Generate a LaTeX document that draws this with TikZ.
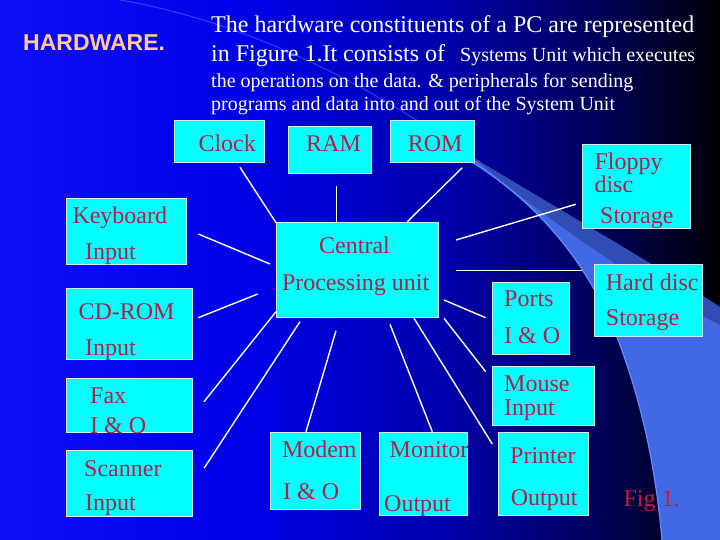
\documentclass[tikz,border=0pt]{standalone}
\usepackage{fontspec}
\setmainfont{Liberation Serif}
\newfontfamily\hwsans{Liberation Sans}
\definecolor{hwcyan}{RGB}{0,255,255}
\definecolor{hwred}{RGB}{176,32,72}
\definecolor{figred}{RGB}{204,24,64}
\definecolor{peach}{RGB}{255,204,153}
\definecolor{swoosh}{RGB}{65,105,228}
\definecolor{swooshdark}{RGB}{50,76,182}
\definecolor{swooshedge}{RGB}{100,140,255}
\definecolor{bgA}{RGB}{14,14,250}
\definecolor{bgB}{RGB}{0,0,232}
\definecolor{bgC}{RGB}{0,0,170}
\definecolor{bgD}{RGB}{0,0,88}
\definecolor{bgE}{RGB}{0,0,8}

\begin{document}
\begin{tikzpicture}[x=1pt,y=-1pt,
  hwbox/.style={draw=white!80!cyan,line width=0.9pt,fill=hwcyan,inner sep=0pt},
  hwtext/.style={text=hwred,font=\fontsize{24}{28}\selectfont,inner sep=0pt,anchor=base west},
  blurb/.style={text=white,inner sep=0pt,anchor=base west},
  link/.style={draw=white,line width=1.4pt}]
\useasboundingbox (0,0) rectangle (720,540);

% background
\shade[left color=bgA,right color=bgB] (0,0) rectangle (251,540);
\shade[left color=bgB,right color=bgC] (250,0) rectangle (451,540);
\shade[left color=bgC,right color=bgD] (450,0) rectangle (601,540);
\shade[left color=bgD,right color=bgE] (600,0) rectangle (720,540);

% swoosh
\draw[swooshedge,line width=1pt,opacity=.45] (120,0) .. controls (250,22) and (380,90) .. (472,158);
\fill[swoosh] (472,157) .. controls (560,210) and (650,262) .. (720,307) -- (720,540) -- (662,540)
  .. controls (655,460) and (640,400) .. (620,345) .. controls (590,265) and (540,205) .. (472,162) -- cycle;
\fill[swooshdark] (472,157) .. controls (560,210) and (650,262) .. (720,307) -- (720,325)
  .. controls (650,290) and (560,230) .. (478,162) -- cycle;
\draw[swooshedge,line width=1.2pt] (662,540) .. controls (655,460) and (640,400) .. (620,345)
  .. controls (590,265) and (540,205) .. (472,162);

% heading
\node[font=\hwsans\bfseries\fontsize{23}{27}\selectfont,text=peach,inner sep=0pt,anchor=base west] (title) at (23,50.7) {HARDWARE.};
\node[blurb,font=\fontsize{24}{28}\selectfont] (line1) at (211,33) {The hardware constituents of a PC are represented};
\node[blurb,font=\fontsize{24}{28}\selectfont] (line2) at (211,61.5) {in Figure 1.It consists of};
\node[blurb,font=\fontsize{20}{24}\selectfont] (line2b) at (460,61.5) {Systems Unit which executes};
\node[blurb,font=\fontsize{20}{24}\selectfont] (line3) at (211,87.5) {the operations on the data. \& peripherals for sending};
\node[blurb,font=\fontsize{20}{24}\selectfont] (line4) at (211,111) {programs and data into and out of the System Unit};

% connector ends
\coordinate (clock-a) at (240,167.3);   \coordinate (clock-b) at (276,222.7);
\coordinate (ram-a) at (336.7,186);     \coordinate (ram-b) at (336.7,221.7);
\coordinate (rom-a) at (462.3,167.7);   \coordinate (rom-b) at (407.3,221.7);
\coordinate (kbd-a) at (198.3,234);     \coordinate (kbd-b) at (270,264);
\coordinate (floppy-a) at (575.7,204.3);\coordinate (floppy-b) at (456,240);
\coordinate (hdisc-a) at (581.7,270.3); \coordinate (hdisc-b) at (456,270.3);
\coordinate (cdrom-a) at (198.3,317.7); \coordinate (cdrom-b) at (257.7,294);
\coordinate (fax-a) at (204,401.7);     \coordinate (fax-b) at (276,311.7);
\coordinate (scanner-a) at (204,468.3); \coordinate (scanner-b) at (300,321.7);
\coordinate (modem-a) at (306,431.7);   \coordinate (modem-b) at (336,330.7);
\coordinate (monitor-a) at (432.3,431.7);\coordinate (monitor-b) at (390,324.3);
\coordinate (printer-a) at (492.3,444); \coordinate (printer-b) at (414,318.3);
\coordinate (ports-a) at (485.7,317.7); \coordinate (ports-b) at (444,300);
\coordinate (mouse-a) at (485.7,371.7); \coordinate (mouse-b) at (444,318.3);

\foreach \n in {clock,ram,rom,kbd,floppy,hdisc,cdrom,fax,scanner,modem,monitor,printer,ports,mouse}
  \draw[link] (\n-a) -- (\n-b);

% boxes
\node[hwbox,minimum width=90,minimum height=42] (clock) at (219,141) {};
\node[hwbox,minimum width=83,minimum height=47] (ram) at (329.5,149.5) {};
\node[hwbox,minimum width=84,minimum height=42] (rom) at (432,141) {};
\node[hwbox,minimum width=108,minimum height=84] (floppy) at (636,186) {};
\node[hwbox,minimum width=120,minimum height=66] (kbd) at (126,231) {};
\node[hwbox,minimum width=162,minimum height=95] (cpu) at (357,269.5) {};
\node[hwbox,minimum width=108,minimum height=72] (hdisc) at (648,300) {};
\node[hwbox,minimum width=77,minimum height=72] (ports) at (530.5,318) {};
\node[hwbox,minimum width=126,minimum height=71] (cdrom) at (129,323.5) {};
\node[hwbox,minimum width=126,minimum height=54] (fax) at (129,405) {};
\node[hwbox,minimum width=126,minimum height=66] (scanner) at (129,483) {};
\node[hwbox,minimum width=102,minimum height=59] (mouse) at (543,395.5) {};
\node[hwbox,minimum width=90,minimum height=77] (modem) at (315,470.5) {};
\node[hwbox,minimum width=88,minimum height=83] (monitor) at (423,473.5) {};
\node[hwbox,minimum width=90,minimum height=83] (printer) at (543,473.5) {};

% box texts
\foreach \x/\y/\t [count=\i] in {198.3/151.7/Clock, 306/151.7/RAM, 407.7/151.7/ROM,
    594.3/170/Floppy, 594.3/192.7/disc, 600/223.3/Storage,
    72.3/223.3/Keyboard, 85/259/Input,
    319/253.3/Central, 281.8/290/Processing unit,
    605.7/290/Hard disc, 605.7/325/Storage,
    504/306.7/Ports, 504/343.3/I \& O,
    78.3/319.3/CD-ROM, 85/355/Input,
    90/403.3/Fax, 90/433.3/I \& O,
    84/476/Scanner, 85/510.7/Input,
    504/391.7/Mouse, 504/415/Input,
    281.8/457.7/Modem, 283/499.3/I \& O,
    389.5/457.7/Monitor, 384/511.7/Output,
    510/463.3/Printer, 510.7/505/Output}
  \node[hwtext] (txt\i) at (\x,\y) {\t};

\node[hwtext,text=figred] (fig) at (623.3,506) {Fig 1.};
\end{tikzpicture}
\end{document}
